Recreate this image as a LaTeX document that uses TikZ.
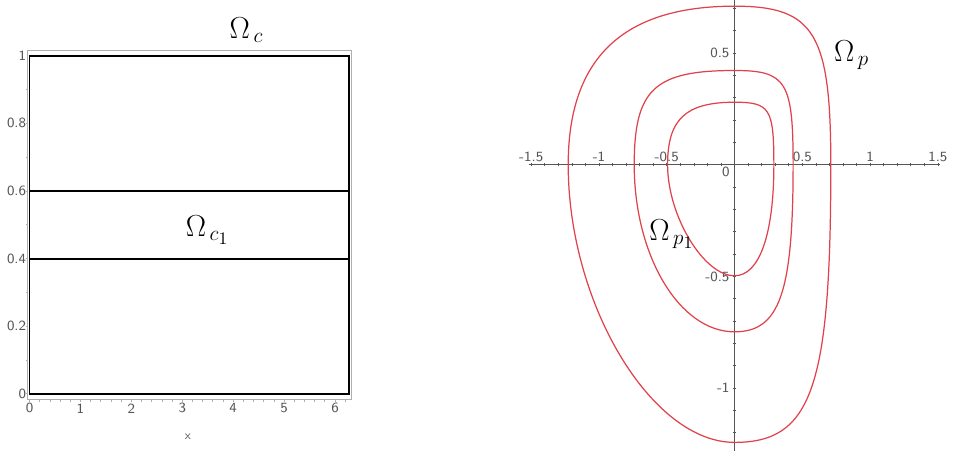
\documentclass[tikz,border=0pt]{standalone}
\usepackage{amsmath, amssymb}

\definecolor{orbitred}{RGB}{224,66,76}
\definecolor{axisgray}{RGB}{85,85,85}
\definecolor{framegray}{RGB}{175,175,175}

\begin{document}
\begin{tikzpicture}[x=0.02cm, y=0.02cm,
    orbit/.style={draw=orbitred, line width=0.7pt},
    ticklbl/.style={font=\sffamily\footnotesize, text=axisgray, inner sep=0pt},
    omega/.style={font=\LARGE, inner sep=0pt}]
    \useasboundingbox (0,0) rectangle (961,451);

    % Left plot
    \begin{scope}[xshift=0.59cm, yshift=1.146cm, x=1.0186cm, y=6.76cm]
        % Draw frame and lines
        \draw[framegray, line width=0.6pt] (-0.03,-0.0166) rectangle (6.326,1.017);
        \draw[line width=1.1pt] (0,0) rectangle (2*pi,1);
        \draw[line width=1.1pt] (0,0.6) -- (2*pi,0.6);
        \draw[line width=1.1pt] (0,0.4) -- (2*pi,0.4);

        % Ticks
        \foreach \t in {0,0.2,...,6.2}
            \draw[framegray] (\t,-0.0166) -- ++(0,-0.007);
        \foreach \t in {0,0.1,...,1}
            \draw[framegray] (-0.03,\t) -- ++(-0.04,0);

        % Labels
        \foreach \i in {0,...,6}
            \node[ticklbl] (xl\i) at (\i,-0.043) {\i};
        \foreach \v [count=\k] in {0,0.2,0.4,0.6,0.8,1}
            \node[ticklbl, anchor=east] (yl\k) at (-0.06,\v) {\v};
        \node[ticklbl, font=\sffamily\scriptsize] (xname) at (3.11,-0.128) {x};
    \end{scope}

    % Right plot
    \begin{scope}[xshift=14.694cm, yshift=5.726cm, x=2.712cm, y=4.468cm]
        % Axes
        \draw[axisgray, line width=0.5pt] (-1.517,0) -- (1.514,0);
        \draw[axisgray, line width=0.5pt] (0,-1.282) -- (0,0.737);
        \foreach \t in {-15,...,15}
            \draw[axisgray] (\t/10,-0.007) -- (\t/10,0.007);
        \foreach \t in {-12,...,7}
            \draw[axisgray] (-0.011,\t/10) -- (0.011,\t/10);

        % Tick labels
        \foreach \v [count=\k] in {-1.5,-1,-0.5,0.5,1,1.5}
            \node[ticklbl] (px\k) at (\v,0.037) {\v};
        \foreach \v [count=\k] in {0.5,-0.5,-1}
            \node[ticklbl, anchor=east] (py\k) at (-0.035,\v) {\v};
        \node[ticklbl] (po) at (-0.064,-0.031) {0};

        % Orbits
        \draw[orbit] (0,0.71) .. controls (0.589,0.71) and (0.71,0.589) .. (0.71,0)
            .. controls (0.71,-0.998) and (0.570,-1.243) .. (0,-1.243)
            .. controls (-0.613,-1.243) and (-1.227,-0.622) .. (-1.227,0)
            .. controls (-1.227,0.477) and (-0.824,0.71) .. cycle;
        \draw[orbit] (0,0.422) .. controls (0.382,0.422) and (0.432,0.373) .. (0.432,0)
            .. controls (0.432,-0.574) and (0.332,-0.748) .. (0,-0.748)
            .. controls (-0.405,-0.748) and (-0.74,-0.409) .. (-0.74,0)
            .. controls (-0.74,0.338) and (-0.592,0.422) .. cycle;
        \draw[orbit] (0,0.28) .. controls (0.261,0.28) and (0.29,0.252) .. (0.29,0)
            .. controls (0.29,-0.313) and (0.183,-0.497) .. (0,-0.497)
            .. controls (-0.227,-0.497) and (-0.494,-0.229) .. (-0.494,0)
            .. controls (-0.494,0.204) and (-0.361,0.28) .. cycle;
    \end{scope}

    % Region labels
    \node[omega] (Oc) at (246.5,421) {$\Omega_{\,c}$};
    \node[omega] (Oc1) at (207.5,221) {$\Omega_{\,c_1}$};
    \node[omega] (Op) at (851.7,396) {$\Omega_{\,p}$};
    \node[omega] (Op1) at (671.7,217) {$\Omega_{\,p_1}$};
\end{tikzpicture}
\end{document}
